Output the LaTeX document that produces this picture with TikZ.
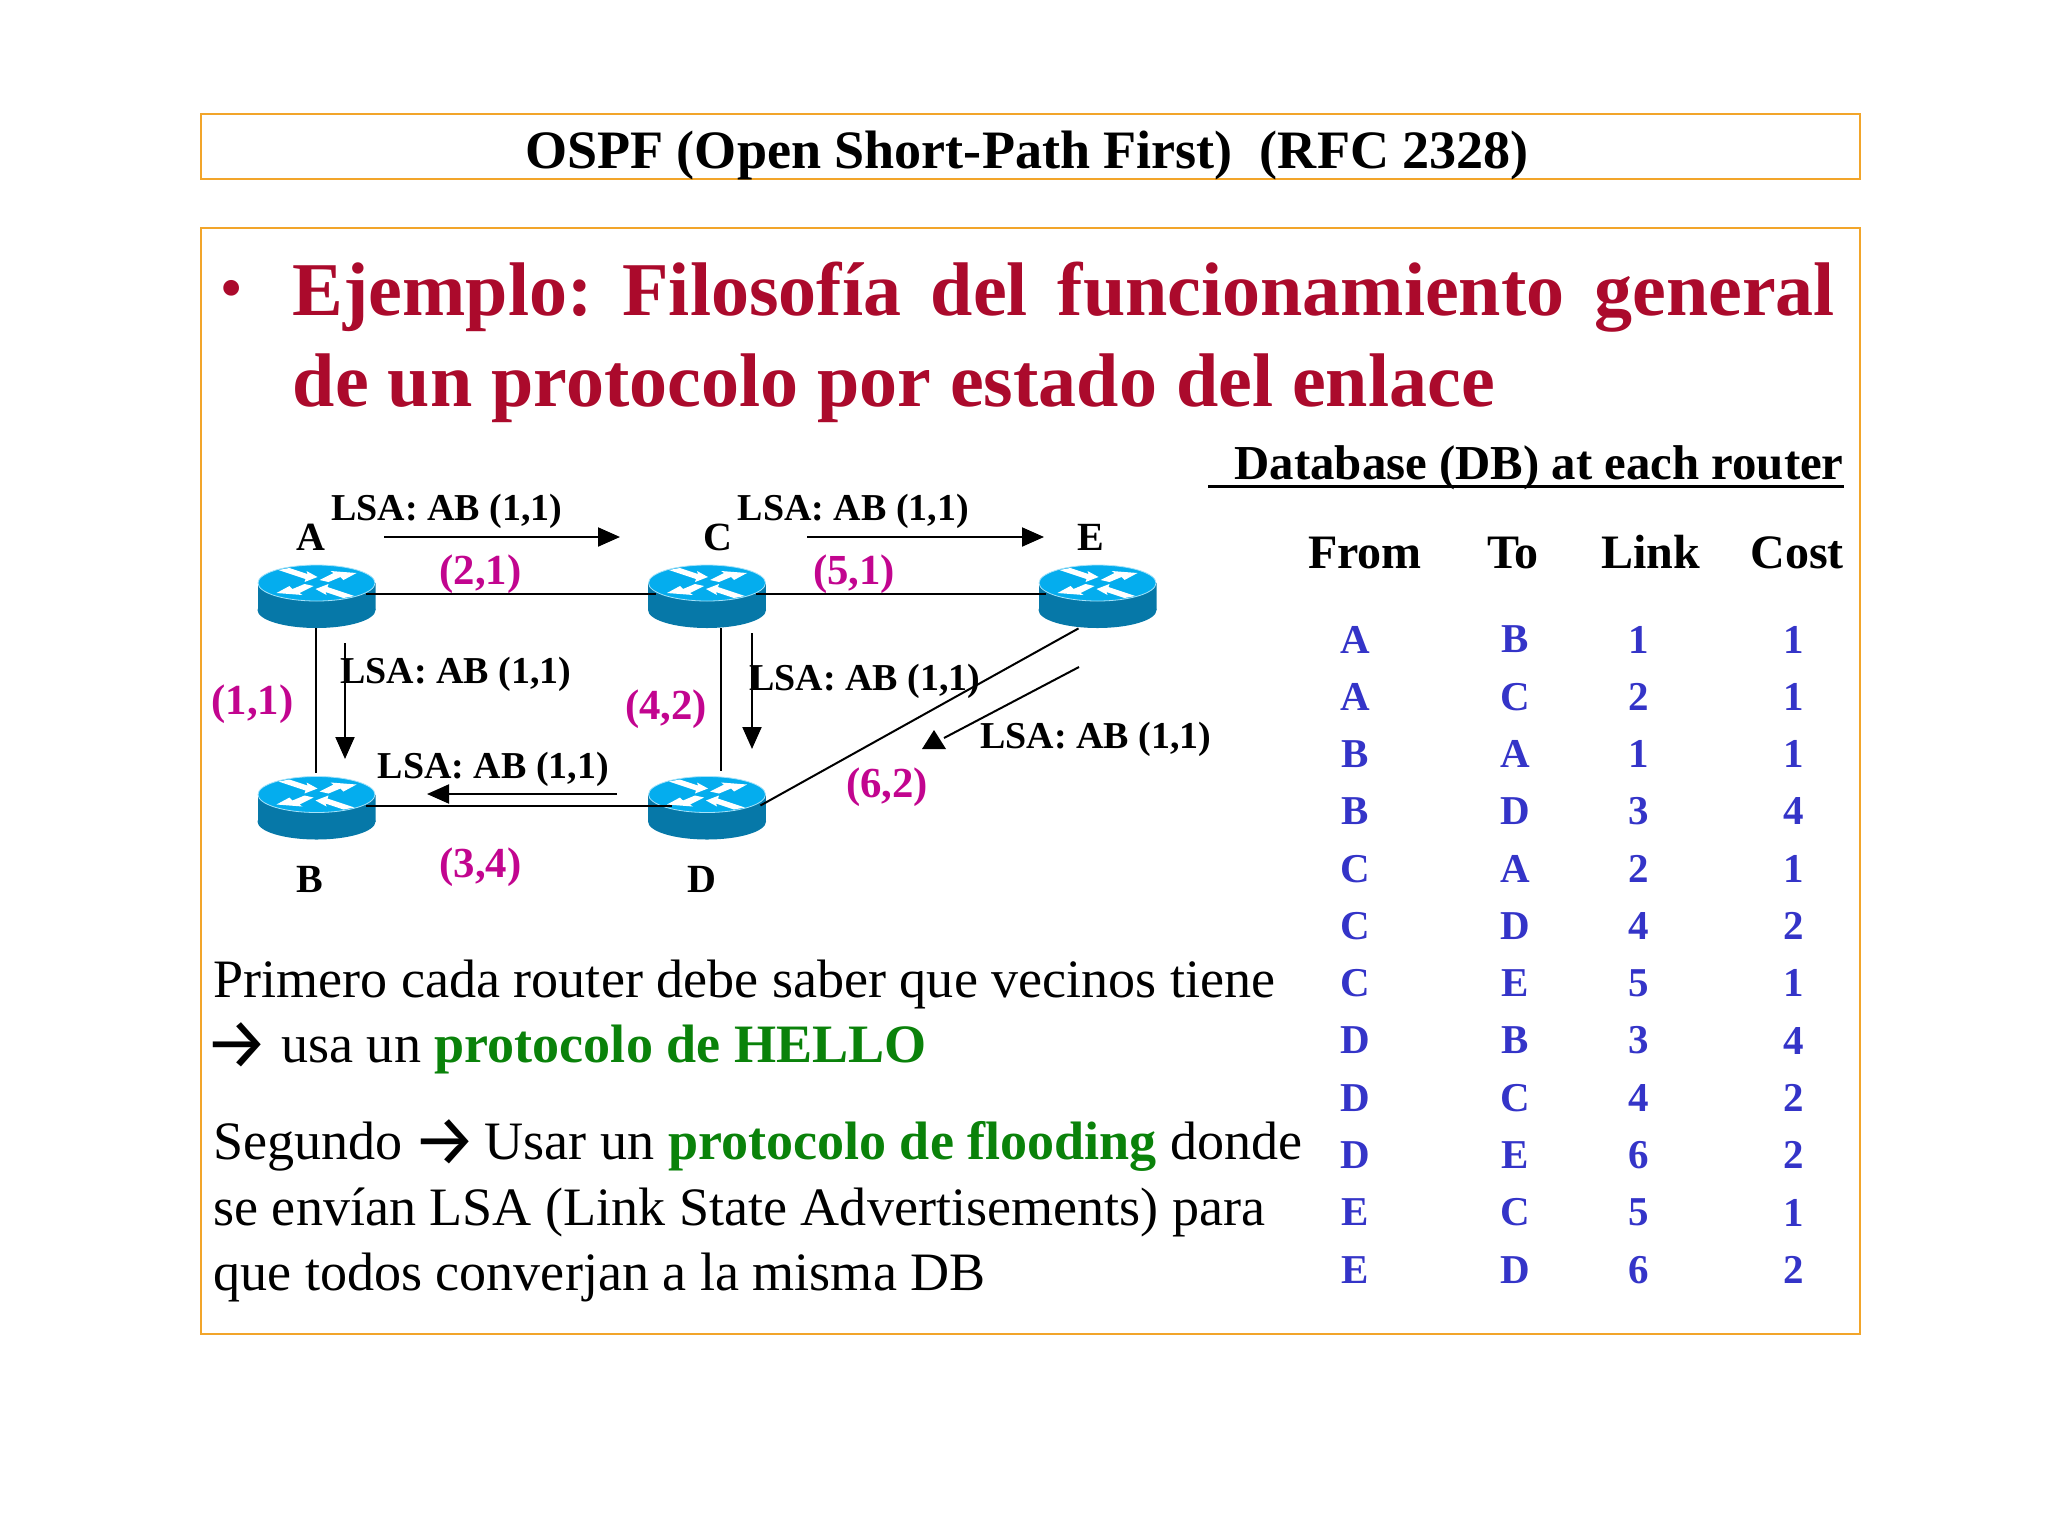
\documentclass[tikz,border=0pt]{standalone}
\usepackage{fontspec}
\setmainfont{Liberation Serif}
\newfontfamily\arrowfont{Fira Sans}
\usetikzlibrary {arrows.meta, positioning}
\definecolor{framecol}{HTML}{F2A52A}
\definecolor{headcol}{HTML}{AB0A2C}
\definecolor{costcol}{HTML}{C2058F}
\definecolor{rowcol}{HTML}{3434C8}
\definecolor{hellocol}{HTML}{0A820A}
\definecolor{routertop}{HTML}{04ADEE}
\definecolor{routerside}{HTML}{0678A8}
\newcommand*{\routerflow}{\fill[white] (-38,-24) -- (-27,-26) -- (-9,-20) -- (-10,-23) -- (1,-17) -- (-12,-12) -- (-11,-15) -- cycle;
  \fill[white] (3,-14) -- (17,-21) -- (14,-23) -- (40,-21) -- (27,-14) -- (24,-17) -- (12,-12) -- cycle;
  \fill[white] (38,2) -- (27,4) -- (9,-2) -- (10,1) -- (-1,-5) -- (12,-10) -- (11,-7) -- cycle;
  \fill[white] (-3,-8) -- (-17,-1) -- (-14,1) -- (-40,-1) -- (-27,-8) -- (-24,-5) -- (-12,-10) -- cycle;}
\newcommand*{\openarrow}[1]{\makebox[#1][l]{\hspace{-4.5pt}\raisebox{-3.3pt}{\arrowfont\fontsize{36}{36}\selectfont →}}}
\begin{document}
\begin{tikzpicture}[x=0.5pt,y=-0.5pt,node distance=1cm,on grid,>={Triangle[length=11pt,width=9.5pt]},
      frame/.style={draw=framecol,line width=1pt},
      router/.style={inner sep=0pt,minimum width=59pt,minimum height=34pt,path picture={
        \begin{scope}[shift={(path picture bounding box.center)}]
          \fill[routerside] (-59,-11) rectangle (59,16);
          \fill[routerside] (0,16) ellipse [x radius=59,y radius=18];
          \fill[routertop,draw=cyan!35,line width=0.4pt] (0,-11) ellipse [x radius=58.5,y radius=18];
          \routerflow
        \end{scope}}},
      link/.style={line width=1pt},
      lsa/.style={line width=1pt,->},
      lsatext/.style={inner sep=0pt,anchor=base,font=\fontsize{19}{23}\selectfont\bfseries},
      cost/.style={inner sep=0pt,anchor=base,text=costcol,font=\fontsize{21.4}{25}\selectfont\bfseries},
      letter/.style={inner sep=0pt,anchor=base,font=\fontsize{20}{24}\selectfont\bfseries},
      body/.style={inner sep=0pt,anchor=base west,font=\fontsize{27.05}{32}\selectfont},
      colhead/.style={inner sep=0pt,anchor=base,font=\fontsize{24}{29}\selectfont\bfseries},
      cell/.style={inner sep=0pt,text=rowcol,font=\fontsize{20.5}{25}\selectfont\bfseries}]
      \useasboundingbox (0,0) rectangle (2048,1536);
      \frenchspacing
      \draw[frame] (201,114) rectangle (1860,179);
      \draw[frame] (201,228) rectangle (1860,1334);
      \node (title) [inner sep=0pt,anchor=base,font=\fontsize{27.05}{32}\selectfont\bfseries] at (1027,168.5) {OSPF (Open Short-Path First)\ \ (RFC 2328)};
      % heading
      \node (bullet) [inner sep=0pt,anchor=base,text=headcol,font=\fontsize{29}{35}\selectfont\bfseries] at (232,307) {•};
      \node (head1) [inner sep=0pt,anchor=base west,text=headcol,font=\fontsize{38}{46}\selectfont\bfseries] at (292.5,315) {\makebox[771pt][s]{Ejemplo: Filosofía del funcionamiento general}};
      \node (head2) [inner sep=0pt,anchor=base west,text=headcol,font=\fontsize{38}{46}\selectfont\bfseries] at (292.5,406) {de un protocolo por estado del enlace};
      % routers
      \node[router] (A) at (316.5,594) {};
      \node[router] (C) [right=195.25pt of A] {};
      \node[router] (E) [right=195.25pt of C] {};
      \node[router] (B) [below=105.75pt of A] {};
      \node[router] (D) [right=195.25pt of B] {};
      \draw[link,shorten <=-5pt,shorten >=-4pt] (A.east) -- (C.west);
      \draw[link,shorten <=-5pt,shorten >=-4pt] (C.east) -- (E.west);
      \draw[link,shorten <=-5pt,shorten >=-12pt] (B.east) -- (D.west);
      \draw[link,shorten >=-1pt] ([xshift=-0.5pt]A.south) -- ([xshift=-0.5pt]B.north);
      \draw[link] ([xshift=7pt]C.south) -- ([xshift=7pt]D.north);
      \draw[link] ([xshift=-9.5pt]E.south) -- ([xshift=-3pt]D.east);
      % LSA arrows
      \coordinate (ac0) at (384,537);  \coordinate (ac1) at (620,537);
      \coordinate (ce0) at (807,537);  \coordinate (ce1) at (1044,537);
      \coordinate (ab0) at (345,643);  \coordinate (ab1) at (345,759);
      \coordinate (cd0) at (752,633);  \coordinate (cd1) at (752,749);
      \coordinate (db0) at (617,794);  \coordinate (db1) at (427,794);
      \coordinate (ed0) at (1079,667); \coordinate (ed1) at (944,738);
      \draw[lsa] (ac0) -- (ac1);
      \draw[lsa] (ce0) -- (ce1);
      \draw[lsa] (ab0) -- (ab1);
      \draw[lsa] (cd0) -- (cd1);
      \draw[lsa] (db0) -- (db1);
      \draw[link] (ed0) -- (ed1);
      \fill (934,730) -- (922,749) -- (946,749) -- cycle;
      \node[lsatext] (lsa1) at (447,520) {LSA: AB (1,1)};
      \node[lsatext] (lsa2) at (853.5,520) {LSA: AB (1,1)};
      \node[lsatext] (lsa3) at (456,683) {LSA: AB (1,1)};
      \node[lsatext] (lsa4) at (865,690) {LSA: AB (1,1)};
      \node[lsatext] (lsa5) at (493.5,778) {LSA: AB (1,1)};
      \node[lsatext] (lsa6) at (1096,748) {LSA: AB (1,1)};
      \node[cost] (c21) at (480.5,584) {(2,1)};
      \node[cost] (c51) at (854,584) {(5,1)};
      \node[cost] (c11) at (252.5,714) {(1,1)};
      \node[cost] (c42) at (666,719.5) {(4,2)};
      \node[cost] (c34) at (480.5,877) {(3,4)};
      \node[cost] (c62) at (887,797) {(6,2)};
      \node[letter] (la) at (311,550) {A};
      \node[letter] (lc) at (718,550) {C};
      \node[letter] (le) at (1091,550) {E};
      \node[letter] (lb) at (310,892) {B};
      \node[letter] (ld) at (702,892) {D};
      % text
      \node[body] (line1) at (213,997) {Primero cada router debe saber que vecinos tiene};
      \node[body] (line2) at (213,1062) {\openarrow{34pt}usa un \textbf{\textcolor{hellocol}{protocolo de HELLO}}};
      \node[body] (line3) at (213,1159) {Segundo\hspace{9.5pt}\openarrow{31.5pt}Usar un \textbf{\textcolor{hellocol}{protocolo de flooding}} donde};
      \node[body] (line4) at (213,1225) {se envían LSA (Link State Advertisements) para};
      \node[body] (line5) at (213,1290) {que todos converjan a la misma DB};
      % database
      \node (dbtitle) [inner sep=0pt,anchor=base east,font=\fontsize{24.4}{29}\selectfont\bfseries] at (1844,479) {Database (DB) at each router};
      \coordinate (db2) at (1208,486); \coordinate (db3) at (1844,486);
      \draw[line width=1.5pt] (db2) -- (db3);
      \node[colhead] (hfrom) at (1365,568) {From};
      \node[colhead] (hto) at (1513,568) {To};
      \node[colhead] (hlink) at (1650.5,568) {Link};
      \node[colhead] (hcost) at (1797,568) {Cost};
      \foreach \from/\to/\linkno/\costno [count=\i from 0] in {A/B/1/1,A/C/2/1,B/A/1/1,B/D/3/4,C/A/2/1,C/D/4/2,C/E/5/1,D/B/3/4,D/C/4/2,D/E/6/2,E/C/5/1,E/D/6/2} {
        \node[cell] (from\i) at (1355,639.5+57.3*\i) {\from};
        \node[cell] (to\i) at (1515,639.5+57.3*\i) {\to};
        \node[cell] (link\i) at (1639,639.5+57.3*\i) {\linkno};
        \node[cell] (cost\i) at (1794,639.5+57.3*\i) {\costno};
      }
    \end{tikzpicture}
\end{document}
